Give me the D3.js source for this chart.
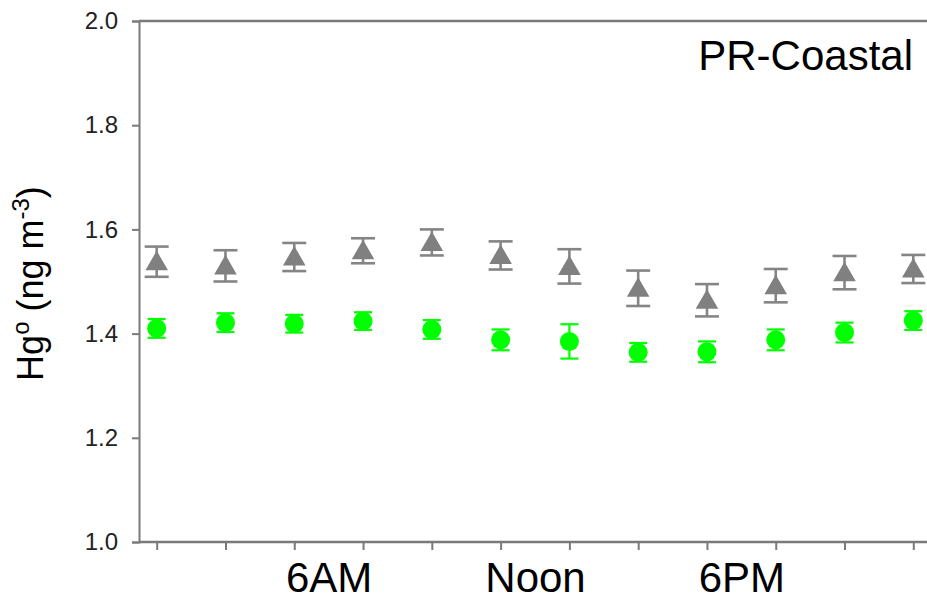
<!DOCTYPE html>
<html>
<head>
<meta charset="utf-8">
<script src="https://cdn.jsdelivr.net/npm/d3@7"></script>
<style>
  html, body { margin: 0; padding: 0; background: #fff; }
  svg { display: block; font-family: "Liberation Sans", Arial, Helvetica, sans-serif; }
</style>
</head>
<body>
<svg id="chart" width="927" height="601"></svg>
<script>
// Hour of day at the centre of each 2-hour bin
const hours = [1, 3, 5, 7, 9, 11, 13, 15, 17, 19, 21, 23];

// Grey triangle series: mean and standard error
const triMean = [1.538, 1.530, 1.547, 1.559, 1.575, 1.550, 1.529, 1.487, 1.464, 1.492, 1.517, 1.524];
const triErr  = [0.029, 0.030, 0.027, 0.024, 0.025, 0.027, 0.033, 0.034, 0.031, 0.032, 0.032, 0.027];

// Green circle series: mean and standard error
const dotMean = [1.410, 1.421, 1.419, 1.424, 1.408, 1.388, 1.385, 1.364, 1.365, 1.388, 1.402, 1.425];
const dotErr  = [0.018, 0.018, 0.017, 0.017, 0.018, 0.020, 0.033, 0.018, 0.020, 0.020, 0.019, 0.018];

// Axis labelling
const yTicks = [1.0, 1.2, 1.4, 1.6, 1.8, 2.0];
const timeLabelHours = [6, 12, 18];
const timeLabels = ["6AM", "Noon", "6PM"];
const siteName = "PR-Coastal";

const svg = d3.select("#chart");
const W = 927;
const axisColor = "#7a7a7a";

const x = d3.scaleLinear().domain([1, 23]).range([156.7, 913.3]);
const y = d3.scaleLinear().domain([1.0, 2.0]).range([542, 21]);
const yAxisX = 139;

// Y axis
const yAxis = svg.append("g")
  .attr("transform", `translate(${yAxisX},0)`)
  .call(d3.axisLeft(y).tickValues(yTicks).tickSize(7).tickPadding(14).tickFormat(d3.format(".1f")));
yAxis.select(".domain").attr("stroke", axisColor).attr("stroke-width", 2);
yAxis.selectAll(".tick line").attr("stroke", axisColor).attr("stroke-width", 2);
yAxis.selectAll(".tick text")
  .attr("font-size", 24).attr("fill", "#222")
  .attr("font-family", "Liberation Sans, Arial, sans-serif");

// Top and bottom frame lines
svg.append("g").selectAll("line").data([1.0, 2.0]).join("line")
  .attr("x1", yAxisX).attr("x2", W)
  .attr("y1", d => y(d)).attr("y2", d => y(d))
  .attr("stroke", axisColor).attr("stroke-width", 2.5);

// X axis: tick marks at each bin
const xAxis = svg.append("g")
  .attr("transform", `translate(0,${y(1.0)})`)
  .call(d3.axisBottom(x).tickValues(hours).tickSize(8).tickFormat(""));
xAxis.select(".domain").remove();
xAxis.selectAll(".tick line").attr("stroke", axisColor).attr("stroke-width", 2);

// X axis: time-of-day labels
const xLab = svg.append("g")
  .attr("transform", `translate(0,${y(1.0)})`)
  .call(d3.axisBottom(x).tickValues(timeLabelHours).tickSize(0).tickPadding(20)
    .tickFormat((d, i) => timeLabels[i]));
xLab.select(".domain").remove();
xLab.selectAll(".tick text")
  .attr("font-size", 42).attr("fill", "#000")
  .attr("font-family", "Liberation Sans, Arial, sans-serif");

// Y axis title
const yTitle = svg.append("text")
  .attr("transform", `translate(43,${(y(1.6) + y(1.4)) / 2 + 2}) rotate(-90)`)
  .attr("text-anchor", "middle")
  .attr("font-size", 36)
  .attr("fill", "#000");
yTitle.append("tspan").text("Hg");
yTitle.append("tspan").attr("font-size", 24).attr("dy", -14).text("o");
yTitle.append("tspan").attr("dy", 14).text(" (ng m");
yTitle.append("tspan").attr("font-size", 24).attr("dy", -14).text("-3");
yTitle.append("tspan").attr("dy", 14).text(")");

// Site label
svg.append("text")
  .attr("x", 913).attr("y", 70)
  .attr("text-anchor", "end")
  .attr("font-size", 42)
  .attr("fill", "#000")
  .text(siteName);

// Error bars
function drawErrorBars(mean, err, color, width, capHalf) {
  const g = svg.append("g").attr("stroke", color).attr("stroke-width", width);
  const data = hours.map((h, i) => ({ h, m: mean[i], e: err[i] }));
  g.selectAll("line.v").data(data).join("line").attr("class", "v")
    .attr("x1", d => x(d.h)).attr("x2", d => x(d.h))
    .attr("y1", d => y(d.m + d.e)).attr("y2", d => y(d.m - d.e));
  g.selectAll("line.top").data(data).join("line").attr("class", "top")
    .attr("x1", d => x(d.h) - capHalf).attr("x2", d => x(d.h) + capHalf)
    .attr("y1", d => y(d.m + d.e)).attr("y2", d => y(d.m + d.e));
  g.selectAll("line.bot").data(data).join("line").attr("class", "bot")
    .attr("x1", d => x(d.h) - capHalf).attr("x2", d => x(d.h) + capHalf)
    .attr("y1", d => y(d.m - d.e)).attr("y2", d => y(d.m - d.e));
}

drawErrorBars(triMean, triErr, "#858585", 2.6, 12);
drawErrorBars(dotMean, dotErr, "#00ff00", 2.2, 9);

// Triangle markers
const tri = d3.symbol(d3.symbolTriangle, 220);
svg.append("g").selectAll("path").data(hours).join("path")
  .attr("d", tri)
  .attr("transform", (h, i) => `translate(${x(h)},${y(triMean[i]) + 2})`)
  .attr("fill", "#808080");

// Circle markers
svg.append("g").selectAll("circle").data(hours).join("circle")
  .attr("cx", h => x(h))
  .attr("cy", (h, i) => y(dotMean[i]))
  .attr("r", 9.5)
  .attr("fill", "#00ff00");
</script>
</body>
</html>
